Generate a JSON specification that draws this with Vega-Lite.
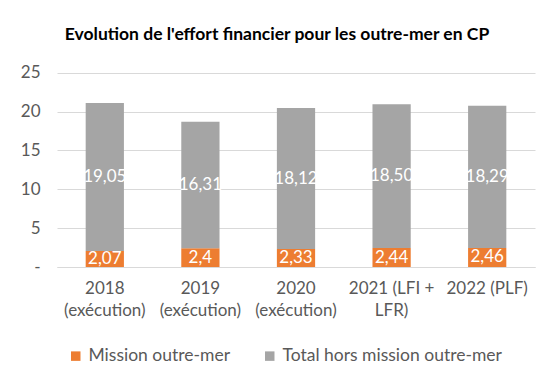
{
  "$schema": "https://vega.github.io/schema/vega-lite/v6.json",
  "width": 478,
  "height": 202,
  "autosize": "none",
  "padding": {"left": 57, "top": 65, "right": 25, "bottom": 120},
  "background": "white",
  "config": {
    "font": "Lato",
    "view": {"stroke": null}
  },
  "title": {
    "text": "Evolution de l'effort financier pour les outre-mer en CP",
    "fontSize": 17.5,
    "fontWeight": "bold",
    "color": "#000000",
    "anchor": "middle",
    "dx": -19,
    "offset": 20
  },
  "data": {
    "values": [
      {"cat": "2018|(exécution)", "serie": "Mission outre-mer", "ord": 1, "v": 2.07, "label": "2,07"},
      {"cat": "2018|(exécution)", "serie": "Total hors mission outre-mer", "ord": 2, "v": 19.05, "label": "19,05"},
      {"cat": "2019|(exécution)", "serie": "Mission outre-mer", "ord": 1, "v": 2.4, "label": "2,4"},
      {"cat": "2019|(exécution)", "serie": "Total hors mission outre-mer", "ord": 2, "v": 16.31, "label": "16,31"},
      {"cat": "2020|(exécution)", "serie": "Mission outre-mer", "ord": 1, "v": 2.33, "label": "2,33"},
      {"cat": "2020|(exécution)", "serie": "Total hors mission outre-mer", "ord": 2, "v": 18.12, "label": "18,12"},
      {"cat": "2021 (LFI +|LFR)", "serie": "Mission outre-mer", "ord": 1, "v": 2.44, "label": "2,44"},
      {"cat": "2021 (LFI +|LFR)", "serie": "Total hors mission outre-mer", "ord": 2, "v": 18.50, "label": "18,50"},
      {"cat": "2022 (PLF)", "serie": "Mission outre-mer", "ord": 1, "v": 2.46, "label": "2,46"},
      {"cat": "2022 (PLF)", "serie": "Total hors mission outre-mer", "ord": 2, "v": 18.29, "label": "18,29"}
    ]
  },
  "transform": [
    {"stack": "v", "groupby": ["cat"], "sort": [{"field": "ord", "order": "ascending"}], "as": ["y0", "y1"]}
  ],
  "encoding": {
    "x": {
      "field": "cat",
      "type": "nominal",
      "sort": null,
      "title": null,
      "scale": {"paddingInner": 0.6, "paddingOuter": 0.3},
      "axis": {
        "labelAngle": 0,
        "labelExpr": "split(datum.label, '|')",
        "labelFontSize": 17,
        "labelColor": "#595959",
        "labelPadding": 13,
        "labelLineHeight": 22,
        "labelLimit": 200,
        "domainColor": "#d9d9d9",
        "ticks": false
      }
    }
  },
  "layer": [
    {
      "mark": {"type": "bar"},
      "encoding": {
        "y": {
          "field": "y0",
          "type": "quantitative",
          "title": null,
          "scale": {"domain": [0, 25]},
          "axis": {
            "values": [0, 5, 10, 15, 20, 25],
            "labelExpr": "datum.value == 0 ? '-' : datum.label",
            "labelFontSize": 17,
            "labelColor": "#595959",
            "labelPadding": 17,
            "gridColor": "#d9d9d9",
            "domain": false,
            "ticks": false
          }
        },
        "y2": {"field": "y1"},
        "color": {
          "field": "serie",
          "type": "nominal",
          "scale": {
            "domain": ["Mission outre-mer", "Total hors mission outre-mer"],
            "range": ["#ED7D31", "#A5A5A5"]
          },
          "legend": {
            "title": null,
            "orient": "none",
            "direction": "horizontal",
            "legendX": 10,
            "legendY": 282,
            "symbolType": "square",
            "symbolSize": 90,
            "symbolStrokeWidth": 0,
            "labelFontSize": 17.5,
            "labelColor": "#595959",
            "labelLimit": 300,
            "columnPadding": 30,
            "labelOffset": 4
          }
        }
      }
    },
    {
      "transform": [
        {"fold": ["y0", "y1"], "as": ["k", "pos"]}
      ],
      "mark": {"type": "text", "color": "white", "fontSize": 17, "baseline": "middle"},
      "encoding": {
        "y": {"aggregate": "mean", "field": "pos", "type": "quantitative"},
        "detail": {"field": "serie"},
        "text": {"field": "label"}
      }
    }
  ]
}
